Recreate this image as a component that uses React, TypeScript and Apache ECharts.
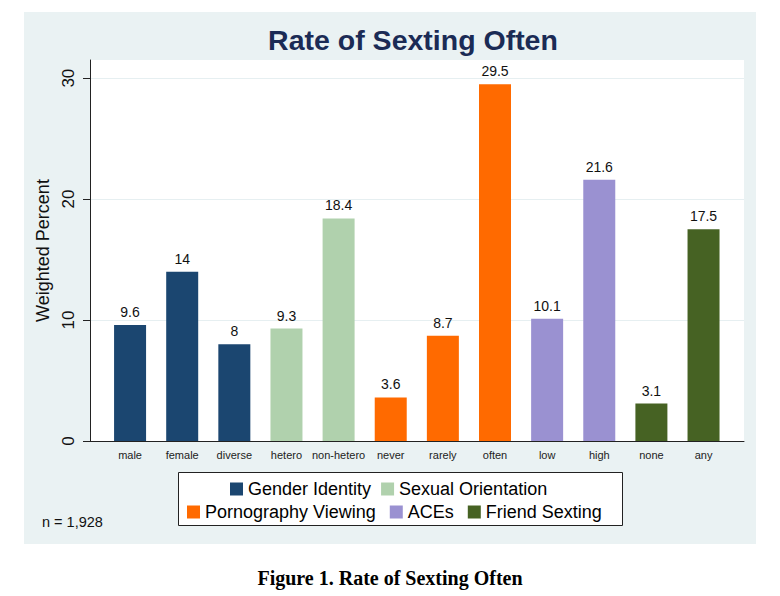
import React, { useEffect, useRef } from "react";
import * as echarts from "echarts";

const categories = ["male", "female", "diverse", "hetero", "non-hetero", "never", "rarely", "often", "low", "high", "none", "any"];
const values = [9.6, 14, 8, 9.3, 18.4, 3.6, 8.7, 29.5, 10.1, 21.6, 3.1, 17.5];
const groupNames = ["Gender Identity", "Sexual Orientation", "Pornography Viewing", "ACEs", "Friend Sexting"];
const groupOfCategory = [0, 0, 0, 1, 1, 2, 2, 2, 3, 3, 4, 4];
const groupColors = ["#1b4670", "#b0d1ad", "#ff6a00", "#9a91d1", "#466223"];
const yTicks = [0, 10, 20, 30];

const FONT = "'Liberation Sans', Arial, Helvetica, sans-serif";

export default function App() {
  const ref = useRef<HTMLDivElement>(null);

  useEffect(() => {
    if (!ref.current) return;
    const chart = echarts.init(ref.current, undefined, { renderer: "svg" });

    const series = groupNames.map((name, g) => ({
      name,
      type: "bar",
      xAxisIndex: 1,
      yAxisIndex: 1,
      stack: "all",
      barWidth: 32,
      itemStyle: { color: groupColors[g] },
      label: {
        show: true,
        position: "top",
        distance: 6,
        fontSize: 14,
        fontFamily: FONT,
        color: "#111",
      },
      data: values.map((v, i) => (groupOfCategory[i] === g ? v : "-")),
    }));

    chart.setOption({
      animation: false,
      backgroundColor: "transparent",
      textStyle: { fontFamily: FONT },
      grid: [
        {
          left: 90,
          right: 36,
          top: 60,
          bottom: 155,
          show: true,
          backgroundColor: "#ffffff",
          borderWidth: 0,
        },
        { left: 104, right: 50.4, top: 60, bottom: 155 },
      ],
      xAxis: [
        {
          type: "value",
          gridIndex: 0,
          min: 0,
          max: 1,
          axisLine: { show: true, lineStyle: { color: "#222", width: 1 } },
          axisTick: { show: false },
          axisLabel: { show: false },
          splitLine: { show: false },
        },
        {
          type: "category",
          gridIndex: 1,
          data: categories,
          axisLine: { show: false },
          axisTick: { show: false },
          axisLabel: { fontSize: 11, color: "#222", margin: 8, interval: 0, fontFamily: FONT },
        },
      ],
      yAxis: [
        {
          type: "value",
          gridIndex: 0,
          min: 0,
          max: 31.5,
          interval: 10,
          axisLine: { show: true, lineStyle: { color: "#222", width: 1 } },
          axisTick: { show: true, length: 7, customValues: yTicks, lineStyle: { color: "#222" } },
          axisLabel: {
            customValues: yTicks,
            rotate: 90,
            fontSize: 17,
            color: "#111",
            margin: 13,
            fontFamily: FONT,
          },
          splitLine: { show: true, lineStyle: { color: "#e6eff1", width: 1 } },
          name: "Weighted Percent",
          nameLocation: "middle",
          nameRotate: 90,
          nameGap: 35,
          nameTextStyle: { fontSize: 18, color: "#111", fontFamily: FONT },
        },
        {
          type: "value",
          gridIndex: 1,
          min: 0,
          max: 31.5,
          show: false,
          splitLine: { show: false },
        },
      ],
      legend: [
        {
          data: groupNames.slice(0, 2),
          left: 230,
          top: 480,
          orient: "horizontal",
          itemWidth: 13,
          itemHeight: 13,
          itemGap: 10,
          padding: 0,
          icon: "rect",
          selectedMode: false,
          textStyle: { fontSize: 18, color: "#000", fontFamily: FONT },
        },
        {
          data: groupNames.slice(2),
          left: 187,
          top: 503,
          orient: "horizontal",
          itemWidth: 13,
          itemHeight: 13,
          itemGap: 14,
          padding: 0,
          icon: "rect",
          selectedMode: false,
          textStyle: { fontSize: 18, color: "#000", fontFamily: FONT },
        },
      ],
      graphic: [
        {
          type: "rect",
          z: -100,
          silent: true,
          shape: { x: 24, y: 12, width: 732, height: 532 },
          style: { fill: "#eaf2f3" },
        },
        {
          type: "rect",
          z: 1,
          silent: true,
          shape: { x: 178.5, y: 472.5, width: 444, height: 53 },
          style: { fill: "#ffffff", stroke: "#222", lineWidth: 1 },
        },
        {
          type: "text",
          silent: true,
          style: {
            text: "Rate of Sexting Often",
            x: 413,
            y: 40,
            align: "center",
            verticalAlign: "middle",
            fontSize: 28.5,
            fontWeight: "bold",
            fontFamily: FONT,
            fill: "#1b2b55",
          },
        },
        {
          type: "text",
          silent: true,
          style: {
            text: "n = 1,928",
            x: 42,
            y: 522,
            align: "left",
            verticalAlign: "middle",
            fontSize: 14.5,
            fontFamily: FONT,
            fill: "#111",
          },
        },
        {
          type: "text",
          silent: true,
          style: {
            text: "Figure 1. Rate of Sexting Often",
            x: 390,
            y: 578,
            align: "center",
            verticalAlign: "middle",
            fontSize: 20,
            fontWeight: "bold",
            fontFamily: "'Liberation Serif', 'Times New Roman', serif",
            fill: "#000",
          },
        },
      ],
      series,
    });

    return () => chart.dispose();
  }, []);

  return (
    <div
      ref={ref}
      style={{ position: "fixed", left: 0, top: 0, width: 780, height: 596, background: "#ffffff" }}
    />
  );
}
